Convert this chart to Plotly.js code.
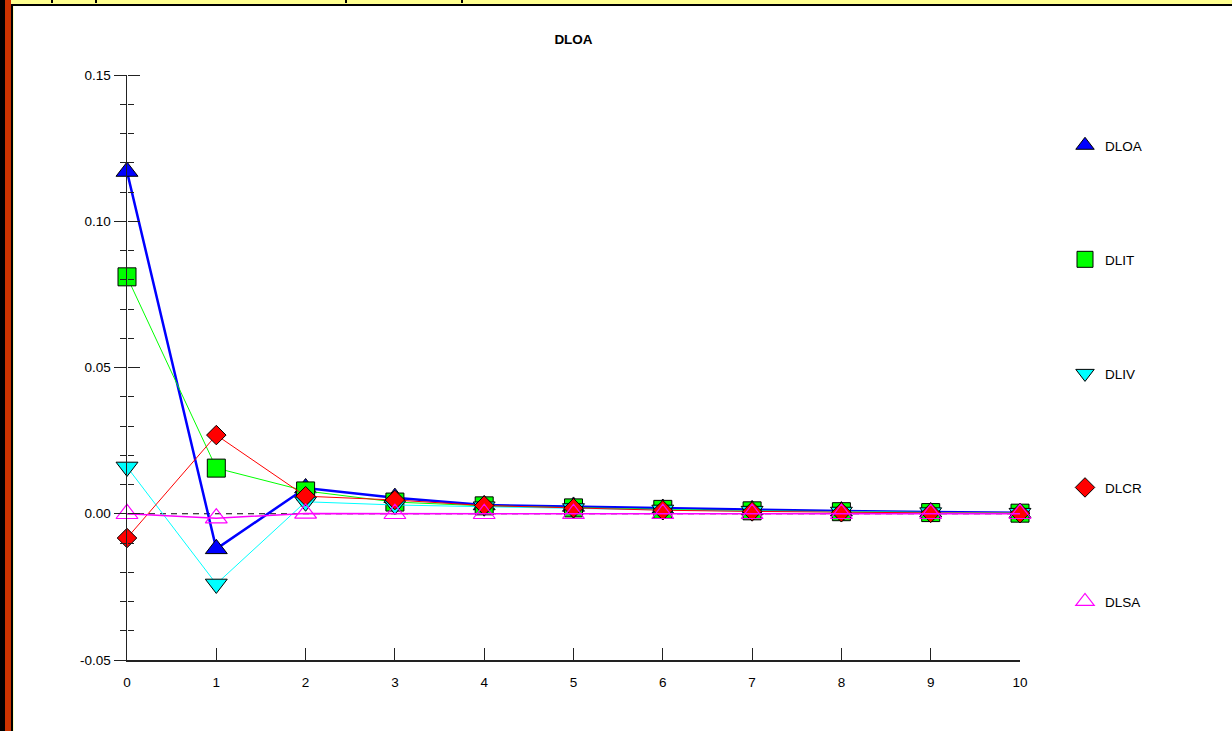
<!DOCTYPE html>
<html>
<head>
<meta charset="utf-8">
<script src="https://cdn.plot.ly/plotly-3.0.1.min.js"></script>
<style>
  html, body { margin: 0; padding: 0; background: #ffffff; }
  #wrap { position: relative; width: 1232px; height: 731px; overflow: hidden; }
  #chart { position: absolute; left: 0; top: 0; width: 1232px; height: 731px; }
  .deco { position: absolute; pointer-events: none; }
</style>
</head>
<body>
<div id="wrap">
  <div id="chart"></div>
  <div class="deco" style="left:11px;top:0;width:1221px;height:4px;background:#ffff90;"></div>
  <div class="deco" style="left:11px;top:4px;width:1221px;height:2px;background:#000;"></div>
  <div class="deco" style="left:0;top:0;width:5px;height:731px;background:#000;"></div>
  <div class="deco" style="left:5px;top:0;width:6px;height:731px;background:#cc3300;"></div>
  <div class="deco" style="left:11px;top:4px;width:2px;height:727px;background:#000;"></div>
  <div class="deco" style="left:13px;top:6px;width:1px;height:725px;background:#ffffc0;"></div>
  <div class="deco" style="left:51px;top:0;width:2px;height:3px;background:#000;"></div>
  <div class="deco" style="left:95px;top:0;width:2px;height:3px;background:#000;"></div>
  <div class="deco" style="left:345px;top:0;width:2px;height:3px;background:#000;"></div>
  <div class="deco" style="left:461px;top:0;width:2px;height:3px;background:#000;"></div>
</div>
<script>
// ---- data ----
const steps = [0, 1, 2, 3, 4, 5, 6, 7, 8, 9, 10];
const seriesNames = ["DLOA", "DLIT", "DLIV", "DLCR", "DLSA"];
const DLOA = [0.117, -0.012, 0.0088, 0.0055, 0.0030, 0.0025, 0.0018, 0.0013, 0.0009, 0.0006, 0.0003];
const DLIT = [0.081, 0.0156, 0.0078, 0.0040, 0.0027, 0.0020, 0.0015, 0.0010, 0.0007, 0.0004, 0.0002];
const DLIV = [0.016, -0.024, 0.0041, 0.0030, 0.0024, 0.0018, 0.0013, 0.0009, 0.0006, 0.0004, 0.0002];
const DLCR = [-0.0083, 0.0269, 0.0060, 0.0047, 0.0028, 0.0019, 0.0012, 0.0008, 0.0005, 0.0003, 0.0002];
const DLSA = [0.0, -0.0015, 0.0001, 0.0, 0.0, 0.0, 0.0, 0.0, 0.0, 0.0, 0.0];
const yTickVals = [-0.05, 0.00, 0.05, 0.10, 0.15];
const yTickText = ["-0.05", "0.00", "0.05", "0.10", "0.15"];
const xTickVals = steps;

// ---- styles ----
const styles = {
  DLOA: {line: {color: "#0000ff", width: 2.5}, marker: {symbol: "triangle-up", size: 19, color: "#0000ff", line: {color: "#000", width: 1}}},
  DLIT: {line: {color: "#00ff00", width: 1}, marker: {symbol: "square", size: 18, color: "#00ff00", line: {color: "#000", width: 1}}},
  DLIV: {line: {color: "#00ffff", width: 1}, marker: {symbol: "triangle-down", size: 19, color: "#00ffff", line: {color: "#000", width: 1}}},
  DLCR: {line: {color: "#ff0000", width: 1}, marker: {symbol: "diamond", size: 15, color: "#ff0000", line: {color: "#000", width: 1}}},
  DLSA: {line: {color: "#ff00ff", width: 1.5}, marker: {symbol: "triangle-up-open", size: 19, color: "#ff00ff", line: {color: "#ff00ff", width: 1.2}}}
};
const values = {DLOA, DLIT, DLIV, DLCR, DLSA};

const traces = [];
seriesNames.forEach(name => {
  traces.push({
    x: steps, y: values[name], type: "scatter", mode: "lines+markers",
    name: name, showlegend: false, cliponaxis: false,
    line: styles[name].line, marker: styles[name].marker, hoverinfo: "x+y+name"
  });
});
// legend entries (markers only), placed on the right-facing tick axis
seriesNames.forEach(name => {
  traces.push({
    x: [null], y: [null], type: "scatter", mode: "markers", yaxis: "y2",
    name: name, legendgroup: name, showlegend: true,
    marker: styles[name].marker, hoverinfo: "skip"
  });
});

const axisColor = "#222222";
const fontFam = "Liberation Sans, Arial, sans-serif";
const layout = {
  width: 1232, height: 731,
  margin: {l: 127, r: 212, t: 75, b: 71, pad: 0},
  paper_bgcolor: "#ffffff", plot_bgcolor: "#ffffff",
  font: {family: fontFam, size: 13.5, color: "#000"},
  title: {text: "<b>DLOA</b>", x: 0.5, xref: "paper", xanchor: "center",
          y: 1 - 39 / 731, yref: "container", yanchor: "middle",
          font: {family: fontFam, size: 13.5, color: "#000"}},
  showlegend: true,
  legend: {x: 1.0504, xanchor: "left", y: 1 - 55 / 585, yanchor: "top",
           traceorder: "grouped", tracegroupgap: 93.5, bgcolor: "rgba(0,0,0,0)",
           font: {size: 13.5, color: "#000"}, itemclick: false},
  xaxis: {range: [0, 10], tickvals: xTickVals, ticktext: xTickVals.map(String),
          ticks: "inside", ticklen: 12, tickwidth: 1, tickcolor: axisColor,
          showline: true, linecolor: axisColor, linewidth: 1.5,
          showgrid: false, zeroline: false, ticklabelstandoff: 9,
          tickfont: {size: 13.5, color: "#000"}, fixedrange: true},
  yaxis: {range: [-0.05, 0.15], tickvals: yTickVals, ticktext: yTickText,
          ticks: "outside", ticklen: 12, tickwidth: 1, tickcolor: axisColor,
          minor: {dtick: 0.01, tick0: 0, ticks: "outside", ticklen: 6, tickwidth: 1, tickcolor: axisColor, showgrid: false},
          showline: true, linecolor: axisColor, linewidth: 1.5,
          showgrid: false, zeroline: false,
          tickfont: {size: 13.5, color: "#000"}, fixedrange: true},
  yaxis2: {range: [-0.05, 0.15], overlaying: "y", side: "right", anchor: "free", position: 0,
           tickmode: "linear", tick0: 0, dtick: 0.05,
           ticks: "outside", ticklen: 12, tickwidth: 1, tickcolor: axisColor,
           minor: {dtick: 0.01, tick0: 0, ticks: "outside", ticklen: 6, tickwidth: 1, tickcolor: axisColor, showgrid: false},
           showticklabels: false, showline: false, showgrid: false, zeroline: false, fixedrange: true},
  shapes: [{type: "line", xref: "paper", x0: 0, x1: 1, yref: "y", y0: 0, y1: 0,
            line: {color: "#000", width: 1, dash: "6px,5px"}, layer: "below"}]
};

Plotly.newPlot("chart", traces, layout, {displayModeBar: false, staticPlot: true});
</script>
</body>
</html>
